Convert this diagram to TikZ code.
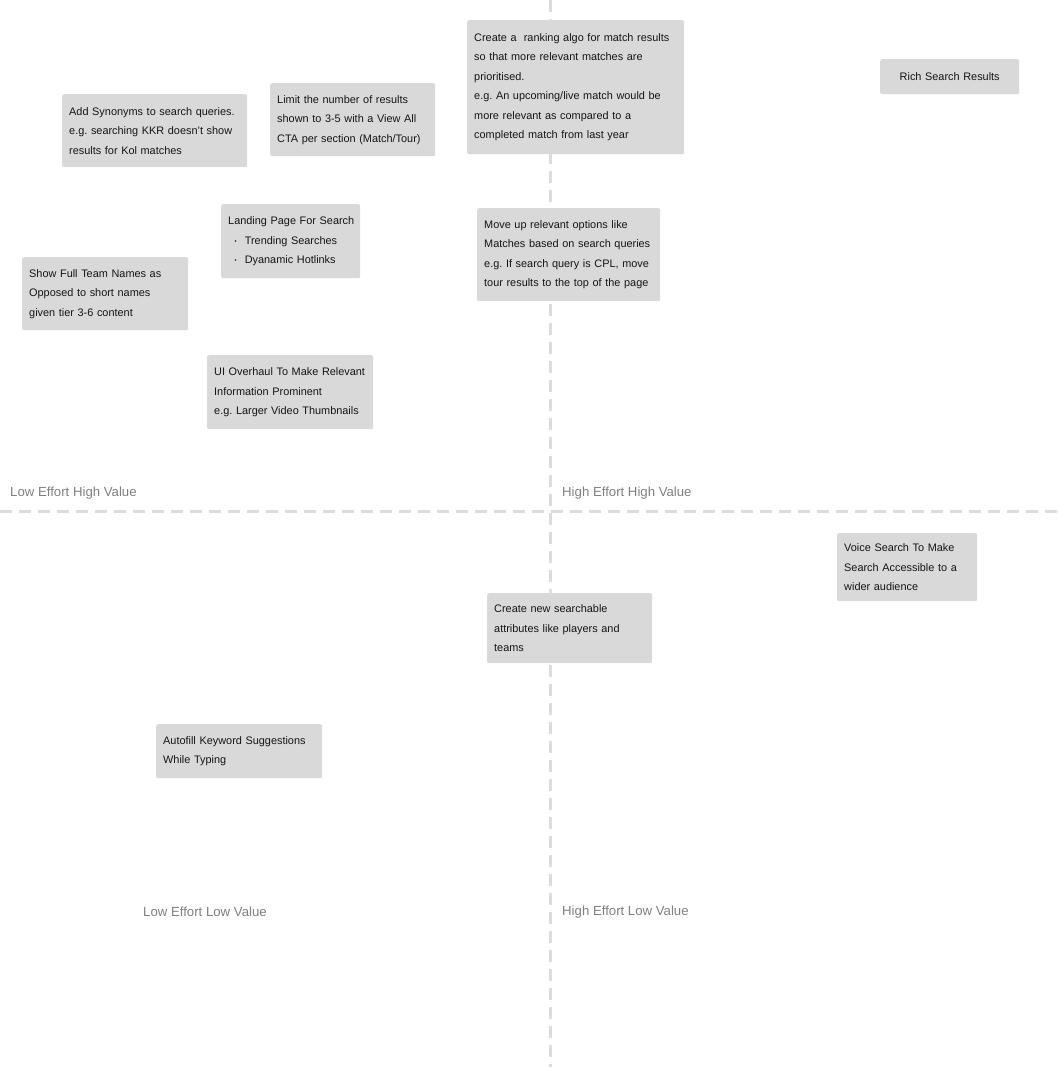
\documentclass[tikz,border=0pt]{standalone}
\usepackage{fontspec}
\setmainfont{Liberation Sans}
\frenchspacing
\definecolor{boxgray}{HTML}{D9D9D9}
\definecolor{linegray}{HTML}{DCDCDC}
\definecolor{labelgray}{HTML}{808080}
\definecolor{ink}{HTML}{151515}
\newcommand{\bul}{\hspace*{6.5pt}{\fontsize{6}{6}\selectfont\raisebox{1pt}{\textbullet}}\hspace{8pt}}
\tikzset{
  card/.style={fill=boxgray, rounded corners=2pt, inner xsep=7pt, inner ysep=0pt,
    align=left, anchor=north west, text=ink,
    font=\fontsize{10.9}{19.5}\selectfont},
  quad/.style={anchor=west, text=labelgray, inner sep=0pt, font=\fontsize{13.2}{15}\selectfont},
  axis/.style={draw=linegray, line width=3pt, dash pattern=on 12pt off 7pt}
}
\begin{document}
\begin{tikzpicture}[x=1pt,y=-1pt]
\useasboundingbox (0,0) rectangle (1057,1067);
% axes
\coordinate (vtop) at (550,0);
\coordinate (vbot) at (550,1067);
\coordinate (hl) at (0,511);
\coordinate (hr) at (1057,511);
\draw[axis] (vtop) -- (vbot);
\draw[axis] (hl) -- (hr);
% cards
\node[card, text width=171pt, minimum height=73pt] (syn) at (62,94)
  {Add Synonyms to search queries.\\e.g. searching KKR doesn’t show\\results for Kol matches};
\node[card, text width=151pt, minimum height=73pt] (limit) at (270,83)
  {Limit the number of results\\shown to 3-5 with a View All\\CTA per section (Match/Tour)};
\node[card, text width=203pt, minimum height=134pt] (rank) at (467,20)
  {Create a \ ranking algo for match results\\so that more relevant matches are\\prioritised.\\e.g. An upcoming/live match would be\\more relevant as compared to a\\completed match from last year};
\node[card, text width=125pt, minimum height=35pt, align=center] (rich) at (880,59)
  {Rich Search Results};
\node[card, text width=125pt, minimum height=74pt] (land) at (221,204)
  {\mbox{Landing Page For Search}\\\bul Trending Searches\\\bul Dyanamic Hotlinks};
\node[card, text width=169pt, minimum height=93pt] (move) at (477,208)
  {Move up relevant options like\\Matches based on search queries\\e.g. If search query is CPL, move\\tour results to the top of the page};
\node[card, text width=152pt, minimum height=73pt] (full) at (22,257)
  {Show Full Team Names as\\Opposed to short names\\given tier 3-6 content};
\node[card, text width=152pt, minimum height=74pt] (ui) at (207,355)
  {UI Overhaul To Make Relevant\\Information Prominent\\e.g. Larger Video Thumbnails};
\node[card, text width=126pt, minimum height=68pt] (voice) at (837,533)
  {Voice Search To Make\\Search Accessible to a\\wider audience};
\node[card, text width=151pt, minimum height=70pt] (attr) at (487,593)
  {Create new searchable\\attributes like players and\\teams};
\node[card, text width=152pt, minimum height=54pt] (auto) at (156,724)
  {Autofill Keyword Suggestions\\While Typing};
% quadrant labels
\node[quad] (lehv) at (10,493.5) {Low Effort High Value};
\node[quad] (hehv) at (562,493.5) {High Effort High Value};
\node[quad] (lelv) at (143,912) {Low Effort Low Value};
\node[quad] (helv) at (562,912) {High Effort Low Value};
\end{tikzpicture}
\end{document}
